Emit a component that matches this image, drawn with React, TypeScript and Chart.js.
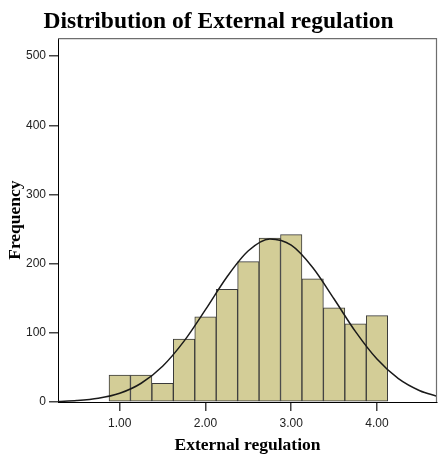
import React, { useEffect, useRef } from "react";
import { Chart, registerables } from "chart.js";

Chart.register(...registerables);

// Histogram bins (bin centres, width 0.25) and frequencies
const binCenters = [1.0, 1.25, 1.5, 1.75, 2.0, 2.25, 2.5, 2.75, 3.0, 3.25, 3.5, 3.75, 4.0];
const frequencies = [39, 39, 27, 91, 123, 163, 203, 237, 242, 178, 136, 113, 125];

// Normal curve
const curveX = [0.28, 0.5, 0.75, 1.0, 1.25, 1.5, 1.75, 2.0, 2.25, 2.5, 2.75, 3.0, 3.25, 3.5, 3.75, 4.0, 4.25, 4.5, 4.7];
const curveY = [0.8, 2.0, 5.3, 12.6, 27.1, 51.7, 88.0, 133.5, 180.8, 218.6, 235.7, 226.7, 194.5, 148.9, 101.7, 62.0, 33.7, 16.3, 8.4];

const xTicks = [1, 2, 3, 4];
const yTicks = [0, 100, 200, 300, 400, 500];

const titleText = "Distribution of External regulation";
const xTitle = "External regulation";
const yTitle = "Frequency";

const boxPlugin = {
  id: "boxPlugin",
  afterDatasetsDraw(chart: any) {
    const { ctx, chartArea } = chart;
    ctx.save();
    ctx.strokeStyle = "#6e6e6e";
    ctx.lineWidth = 1.2;
    ctx.beginPath();
    ctx.moveTo(chartArea.left, chartArea.top + 0.5);
    ctx.lineTo(chartArea.right - 0.5, chartArea.top + 0.5);
    ctx.lineTo(chartArea.right - 0.5, chartArea.bottom);
    ctx.stroke();
    ctx.restore();
  },
};

export default function App() {
  const ref = useRef<HTMLCanvasElement | null>(null);
  useEffect(() => {
    document.body.style.margin = "0";
    const canvas = ref.current;
    if (!canvas) return;
    const tickFont = { family: "'Liberation Sans', Arial, sans-serif", size: 12 };
    const axisTitleFont = { family: "'Liberation Serif', 'Times New Roman', serif", size: 17.5, weight: "bold" as const };
    const chart = new Chart(canvas, {
      type: "bar",
      data: {
        datasets: [
          {
            type: "line",
            data: curveX.map((x, i) => ({ x, y: curveY[i] })),
            borderColor: "#1a1a1a",
            borderWidth: 1.5,
            pointRadius: 0,
            cubicInterpolationMode: "monotone",
            fill: false,
            order: 0,
          } as any,
          {
            type: "bar",
            data: binCenters.map((x, i) => ({ x, y: frequencies[i] })),
            backgroundColor: "#d3cd97",
            borderColor: "#3a3a3a",
            borderWidth: 1,
            borderSkipped: false,
            barPercentage: 1,
            categoryPercentage: 1,
            order: 1,
          } as any,
        ],
      },
      options: {
        responsive: false,
        animation: false,
        layout: { padding: { left: 0, right: 4, top: 0, bottom: 0 } },
        plugins: {
          legend: { display: false },
          tooltip: { enabled: false },
          title: {
            display: true,
            text: titleText,
            color: "#000",
            font: { family: "'Liberation Serif', 'Times New Roman', serif", size: 23.5, weight: "bold" },
            padding: { top: 7.5, bottom: 2.5 },
          },
        },
        scales: {
          x: {
            type: "linear",
            min: 0.28,
            max: 4.7,
            offset: false,
            afterBuildTicks: (scale: any) => {
              scale.ticks = xTicks.map((v) => ({ value: v }));
            },
            afterFit: (scale: any) => {
              scale.height = 56;
            },
            ticks: {
              callback: (v: any) => Number(v).toFixed(2),
              color: "#222",
              font: tickFont,
              padding: 5,
              maxRotation: 0,
            },
            grid: {
              offset: false,
              drawOnChartArea: false,
              drawTicks: true,
              tickLength: 9,
              color: "#444",
              lineWidth: 1.5,
            },
            border: { display: true, color: "#000", width: 1 },
            title: {
              display: true,
              text: xTitle,
              color: "#000",
              font: axisTitleFont,
              padding: { top: 4, bottom: 2 },
            },
          },
          y: {
            type: "linear",
            min: 0,
            max: 526,
            afterBuildTicks: (scale: any) => {
              scale.ticks = yTicks.map((v) => ({ value: v }));
            },
            afterFit: (scale: any) => {
              scale.width = 58;
            },
            ticks: {
              color: "#222",
              font: tickFont,
              padding: 3,
            },
            grid: {
              drawOnChartArea: false,
              drawTicks: true,
              tickLength: 9,
              color: "#444",
              lineWidth: 1.5,
            },
            border: { display: true, color: "#000", width: 1 },
            title: {
              display: true,
              text: yTitle,
              color: "#000",
              font: axisTitleFont,
              padding: { top: 5, bottom: 4 },
            },
          },
        },
      },
      plugins: [boxPlugin],
    });
    return () => chart.destroy();
  }, []);
  return (
    <div style={{ width: 441, height: 458, background: "#fff" }}>
      <canvas ref={ref} width={441} height={458} style={{ display: "block" }} />
    </div>
  );
}
